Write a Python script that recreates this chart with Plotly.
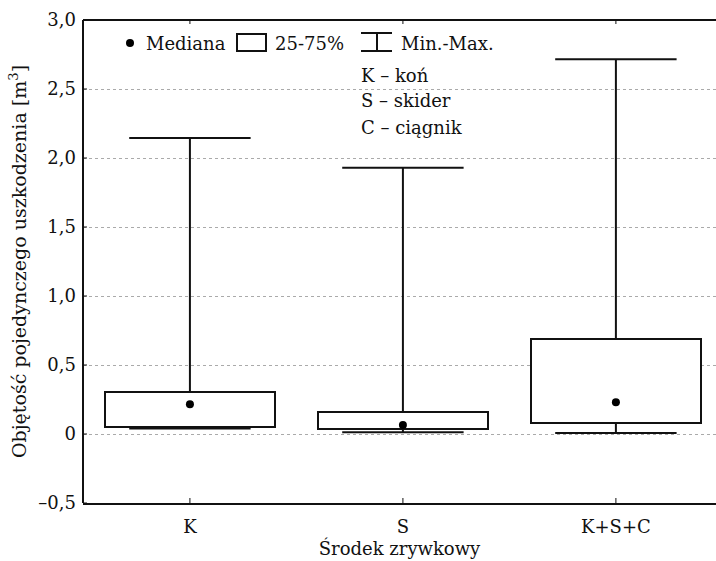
import plotly.graph_objects as go

# Volume of a single damage [m3] by skidding means
categories = ["K", "S", "K+S+C"]
minimum = [0.04, 0.012, 0.008]
q1 = [0.053, 0.036, 0.082]
median = [0.215, 0.065, 0.23]
q3 = [0.307, 0.157, 0.686]
maximum = [2.145, 1.93, 2.715]

y_ticks = [-0.5, 0, 0.5, 1.0, 1.5, 2.0, 2.5, 3.0]
y_tick_text = ["\u20130,5", "0", "0,5", "1,0", "1,5", "2,0", "2,5", "3,0"]

FONT = "DejaVu Serif"
INK = "#111"
W, H = 716, 561
ML, MR, MT, MB = 83, 0, 20, 58
PW, PH = W - ML - MR, H - MT - MB
BOX_W = 0.8
CAP_HALF = 0.285


def px(x):
    return (x - ML) / PW


def py(y):
    return (H - MB - y) / PH


pos = list(range(len(categories)))

fig = go.Figure()

# Interquartile boxes
fig.add_trace(go.Bar(
    x=pos,
    base=q1,
    y=[b - a for a, b in zip(q1, q3)],
    width=BOX_W,
    marker=dict(color="white", line=dict(color=INK, width=2)),
    showlegend=False,
))

# Min-max whiskers with caps
wx, wy = [], []
for i, lo, a, b, hi in zip(pos, minimum, q1, q3, maximum):
    wx += [i, i, None, i - CAP_HALF, i + CAP_HALF, None,
           i, i, None, i - CAP_HALF, i + CAP_HALF, None]
    wy += [b, hi, None, hi, hi, None,
           a, lo, None, lo, lo, None]
fig.add_trace(go.Scatter(
    x=wx, y=wy, mode="lines",
    line=dict(color=INK, width=2),
    showlegend=False, hoverinfo="skip",
))

# Medians
fig.add_trace(go.Scatter(
    x=pos, y=median, mode="markers",
    marker=dict(color="black", size=8),
    showlegend=False,
))

shapes = []
annotations = []

# Left axis and top frame line
shapes.append(dict(type="line", xref="paper", yref="paper", x0=0, x1=0, y0=0, y1=1,
                   line=dict(color=INK, width=2)))
shapes.append(dict(type="line", xref="paper", yref="paper", x0=0, x1=1, y0=1, y1=1,
                   line=dict(color=INK, width=2)))

# Short inward tick marks on the frame
for v in y_ticks:
    shapes.append(dict(type="line", xref="paper", yref="y", x0=0, x1=4 / PW, y0=v, y1=v,
                       line=dict(color=INK, width=1)))
for i in pos:
    shapes.append(dict(type="line", xref="x", yref="paper", x0=i, x1=i, y0=0, y1=5 / PH,
                       line=dict(color=INK, width=1)))
    shapes.append(dict(type="line", xref="x", yref="paper", x0=i, x1=i, y0=1, y1=1 - 4 / PH,
                       line=dict(color=INK, width=1)))

# Legend row
shapes.append(dict(type="circle", xref="paper", yref="paper",
                   x0=px(126), x1=px(134), y0=py(39), y1=py(47),
                   fillcolor="black", line=dict(color="black", width=0)))
annotations.append(dict(text="Mediana", x=px(144), y=py(43)))
shapes.append(dict(type="rect", xref="paper", yref="paper",
                   x0=px(237), x1=px(266), y0=py(51), y1=py(34),
                   line=dict(color=INK, width=2), fillcolor="white"))
annotations.append(dict(text="25-75%", x=px(273), y=py(43)))
for seg in [(361, 33, 392, 33), (377, 33, 377, 51), (361, 51, 392, 51)]:
    shapes.append(dict(type="line", xref="paper", yref="paper",
                       x0=px(seg[0]), y0=py(seg[1]), x1=px(seg[2]), y1=py(seg[3]),
                       line=dict(color=INK, width=2)))
annotations.append(dict(text="Min.-Max.", x=px(399), y=py(43)))

# Category key
for text, yy in [("K \u2013 ko\u0144", 76), ("S \u2013 skider", 101), ("C \u2013 ci\u0105gnik", 128)]:
    annotations.append(dict(text=text, x=px(359), y=py(yy)))

for a in annotations:
    a.update(xref="paper", yref="paper", xanchor="left", yanchor="middle",
             showarrow=False, font=dict(family=FONT, size=18, color=INK))

fig.update_layout(
    width=W, height=H,
    margin=dict(l=ML, r=MR, t=MT, b=MB),
    paper_bgcolor="white", plot_bgcolor="white",
    font=dict(family=FONT, size=18, color=INK),
    shapes=shapes, annotations=annotations,
    bargap=0,
)

fig.update_xaxes(
    range=[-0.502, 2.47],
    tickvals=pos, ticktext=categories,
    showline=True, linecolor=INK, linewidth=2, mirror=False,
    ticks="", ticklabelstandoff=6,
    showgrid=False, zeroline=False,
    title=dict(text="\u015arodek zrywkowy", font=dict(family=FONT, size=18), standoff=6),
)
fig.update_yaxes(
    range=[-0.5, 3.0],
    tickvals=y_ticks, ticktext=y_tick_text,
    showline=False, mirror=False,
    ticks="", ticklabelstandoff=6,
    showgrid=True, gridcolor="#aaaaaa", gridwidth=1, griddash="dot",
    zeroline=False,
    title=dict(text="Obj\u0119to\u015b\u0107 pojedynczego uszkodzenia [m<sup>3</sup>]",
               font=dict(family=FONT, size=19), standoff=6),
)

fig.write_html("out.html")
